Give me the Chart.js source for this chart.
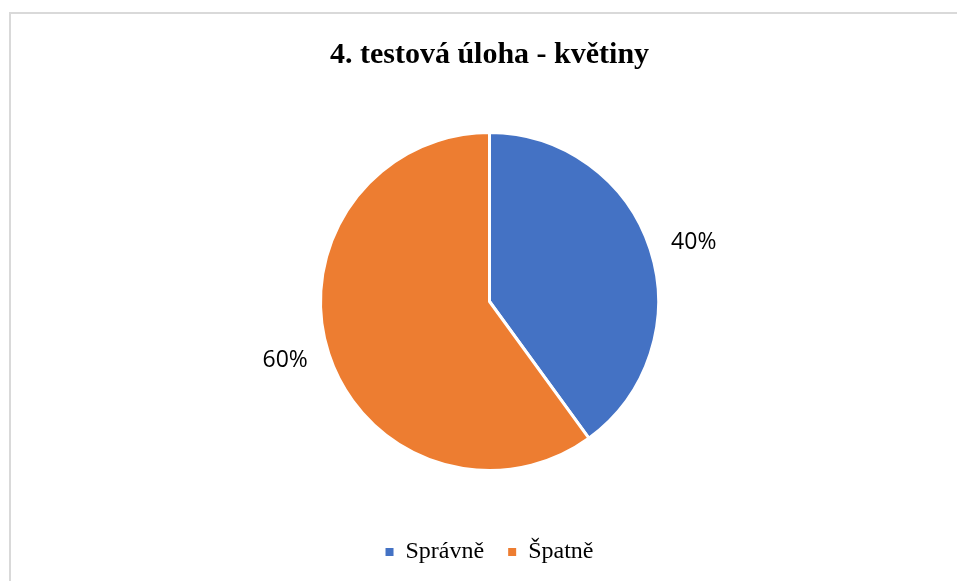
<!DOCTYPE html>
<html>
<head>
<meta charset="utf-8">
<script src="https://cdn.jsdelivr.net/npm/chart.js@4/dist/chart.umd.min.js"></script>
<style>
  html, body { margin: 0; padding: 0; background: #fff; overflow: hidden; }
  #wrap { position: relative; width: 957px; height: 581px; }
  #frame { position: absolute; left: 9px; top: 12px; width: 1000px; height: 1000px; border: 2px solid #d9d9d9; box-sizing: border-box; }
  canvas { position: absolute; left: 0; top: 0; }
</style>
</head>
<body>
<div id="wrap">
  <div id="frame"></div>
  <canvas id="c" width="957" height="581"></canvas>
</div>
<script>
const chartTitle = "4. testová úloha - květiny";
const categories = ["Správně", "Špatně"];
const values = [40, 60];
const valueLabels = ["40%", "60%"];
const colors = ["#4472C4", "#ED7D31"];

const pieLabels = {
  id: 'pieLabels',
  afterDatasetsDraw(chart) {
    const ctx = chart.ctx;
    const meta = chart.getDatasetMeta(0);
    ctx.save();
    ctx.font = '23px "Open Sans", sans-serif';
    ctx.fillStyle = '#000';
    ctx.textAlign = 'center';
    ctx.textBaseline = 'middle';
    meta.data.forEach((arc, i) => {
      const p = arc.getProps(['x', 'y', 'startAngle', 'endAngle', 'outerRadius'], true);
      const mid = (p.startAngle + p.endAngle) / 2;
      const r = p.outerRadius * 1.13;
      const w = ctx.measureText(valueLabels[i]).width;
      const c = Math.cos(mid);
      const x = p.x + c * r + Math.sign(c) * w / 2;
      const y = p.y + Math.sin(mid) * r;
      ctx.fillText(valueLabels[i], x, y);
    });
    ctx.restore();
  }
};

new Chart(document.getElementById('c'), {
  type: 'pie',
  data: {
    labels: categories,
    datasets: [{
      data: values,
      backgroundColor: colors,
      borderColor: '#ffffff',
      borderWidth: 3,
      radius: 169
    }]
  },
  options: {
    responsive: false,
    animation: false,
    layout: { padding: { left: 22, right: 0, top: 0, bottom: 7 } },
    plugins: {
      title: {
        display: true,
        text: chartTitle,
        color: '#000',
        font: { family: '"Liberation Serif", "Times New Roman", serif', size: 30, weight: 'bold' },
        padding: { top: 37, bottom: 14 }
      },
      legend: {
        position: 'bottom',
        labels: {
          color: '#000',
          font: { family: '"Liberation Serif", "Times New Roman", serif', size: 24 },
          boxWidth: 8,
          boxHeight: 8,
          padding: 24,
          generateLabels(chart) {
            const items = Chart.overrides.pie.plugins.legend.labels.generateLabels(chart);
            return items.map(it => Object.assign(it, { lineWidth: 0, strokeStyle: 'rgba(0,0,0,0)' }));
          }
        }
      },
      tooltip: { enabled: false }
    }
  },
  plugins: [pieLabels]
});
</script>
</body>
</html>
